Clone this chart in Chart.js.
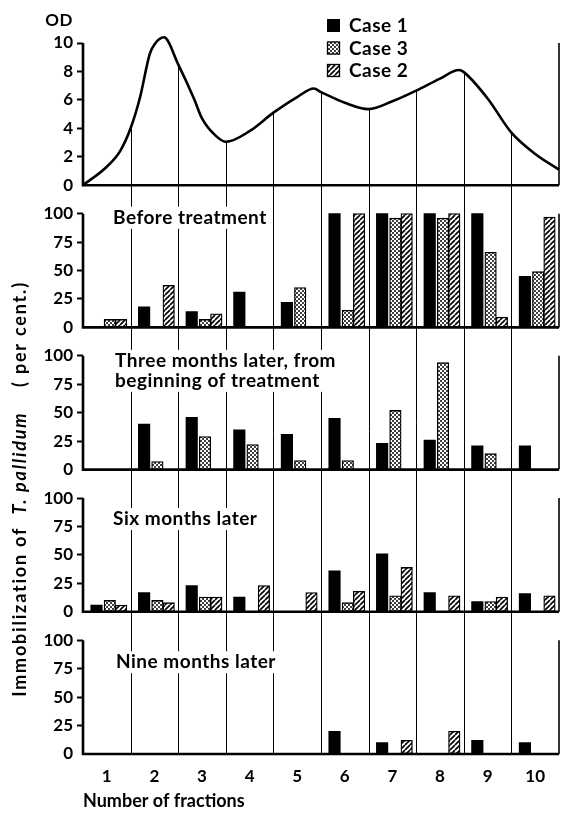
<!DOCTYPE html>
<html>
<head>
<meta charset="utf-8">
<script src="https://cdn.jsdelivr.net/npm/chart.js@4.4.1/dist/chart.umd.min.js"></script>
<style>
  html, body { margin:0; padding:0; background:#fff; }
  #wrap { position:relative; width:563px; height:813px; }
</style>
</head>
<body>
<div id="wrap"><canvas id="c"></canvas></div>
<script>
// ---- data ----
const fractions = ['1','2','3','4','5','6','7','8','9','10'];
const odTicks = [0, 2, 4, 6, 8, 10];
const pctTicks = [0, 25, 50, 75, 100];
const caseNames = ['Case 1', 'Case 3', 'Case 2'];

// OD elution profile, x in fraction units
const odX = [0.5, 1, 1.28, 1.5, 1.7, 1.9, 2, 2.2, 2.5, 2.83, 3, 3.28, 3.5, 4, 4.5, 5, 5.35, 5.5, 6, 6.5, 7, 7.5, 8, 8.4, 8.5, 9, 9.5, 10, 10.5];
const odY = [0, 1.3, 2.4, 4.0, 6.2, 9.2, 9.9, 10.4, 8.5, 6.1, 4.7, 3.5, 3.05, 3.8, 5.1, 6.2, 6.8, 6.55, 5.8, 5.35, 5.9, 6.65, 7.5, 8.1, 7.95, 6.1, 3.7, 2.2, 1.1];

// immobilization (per cent.)
const beforeCase1 = [null, 18, 14, 31, 22, 100, 100, 100, 100, 45];
const beforeCase3 = [7, null, 7, null, 35, 15, 96, 96, 66, 49];
const beforeCase2 = [7, 37, 12, null, null, 100, 100, 100, 9, 97];

const threeCase1 = [null, 40, 46, 35, 31, 45, 23, 26, 21, 21];
const threeCase3 = [null, 7, 29, 22, 8, 8, 52, 94, 14, null];
const threeCase2 = [null, null, null, null, null, null, null, null, null, null];

const sixCase1 = [6, 17, 23, 13, null, 36, 51, 17, 9, 16];
const sixCase3 = [10, 10, 13, null, null, 8, 14, null, 9, null];
const sixCase2 = [6, 8, 13, 23, 17, 18, 39, 14, 13, 14];

const nineCase1 = [null, null, null, null, null, 20, 10, null, 12, 10];
const nineCase3 = [null, null, null, null, null, null, null, null, null, null];
const nineCase2 = [null, null, null, null, null, null, 12, 20, null, null];

const panels = [
  { id: 'yB', title: ['Before treatment'], series: [beforeCase1, beforeCase3, beforeCase2] },
  { id: 'y3', title: ['Three months later, from', 'beginning of treatment'], series: [threeCase1, threeCase3, threeCase2] },
  { id: 'y6', title: ['Six months later'], series: [sixCase1, sixCase3, sixCase2] },
  { id: 'y9', title: ['Nine months later'], series: [nineCase1, nineCase3, nineCase2] }
];

// ---- look ----
const FONT = 'Lato';
// each case sits in its own slot of a fraction: its x axis is slid by this much
const slotShift = [0.216, -0.063, -0.3];

function makePattern(kind){
  const c = document.createElement('canvas');
  const n = kind === 'dots' ? 4 : 5;
  c.width = n; c.height = n;
  const g = c.getContext('2d');
  g.fillStyle = '#fff'; g.fillRect(0, 0, n, n);
  g.fillStyle = '#000'; g.strokeStyle = '#000';
  if(kind === 'dots'){
    g.beginPath(); g.arc(1, 1, 1, 0, Math.PI*2); g.fill();
    g.beginPath(); g.arc(3, 3, 1, 0, Math.PI*2); g.fill();
  } else {
    g.lineWidth = 1.7;
    [-n, 0, n].forEach(dx => {
      g.beginPath(); g.moveTo(dx, n); g.lineTo(dx + n, 0); g.stroke();
    });
  }
  return g.createPattern(c, 'repeat');
}
const fills = ['#000', makePattern('dots'), makePattern('hatch')];

const datasets = [{
  type: 'line',
  data: odX.map((x, i) => ({ x, y: odY[i] })),
  xAxisID: 'xOD', yAxisID: 'yOD',
  borderColor: '#000', borderWidth: 2.6,
  pointRadius: 0, cubicInterpolationMode: 'monotone',
  clip: false
}];
panels.forEach(p => p.series.forEach((vals, k) => datasets.push({
  type: 'bar', label: caseNames[k],
  data: vals.map((v, i) => ({ x: Number(fractions[i]), y: v })),
  xAxisID: 'xC' + k, yAxisID: p.id,
  backgroundColor: fills[k], borderColor: '#000', borderWidth: k ? 1.3 : 0,
  borderSkipped: false, grouped: false, barThickness: 11.5
})));

const tickFont = { family: FONT, size: 17, weight: 'bold' };
function yScale(ticks, max){
  return {
    type: 'linear', position: 'left', stack: 'panels', stackWeight: 1,
    min: 0, max, stacked: false,
    afterBuildTicks: s => { s.ticks = ticks.map(v => ({ value: v })); },
    afterFit: s => { s.width = 83; },
    border: { display: false },
    grid: { drawOnChartArea: false, drawTicks: true, tickLength: 6, tickWidth: 2,
            tickColor: c => (c.tick && c.tick.value === 0) ? 'rgba(0,0,0,0)' : '#000' },
    ticks: { color: '#000', font: tickFont, padding: 4, autoSkip: false }
  };
}
const caseX = s => ({ type: 'linear', position: 'bottom', offset: false, min: 0.5 + s, max: 10.5 + s, display: false });

// frames, dividers, in-panel titles, legend and the y title
const frame = {
  id: 'frame',
  beforeDatasetsDraw(chart){
    const { ctx, chartArea, scales } = chart;
    const bottom = scales.y9.getPixelForValue(0);
    ctx.save();
    ctx.strokeStyle = '#000';
    ctx.lineWidth = 1;
    chart.getDatasetMeta(0).data.forEach((pt, i) => {
      const v = odX[i];
      if(v % 1 !== 0.5 || v < 1 || v > 10) return;
      const x = Math.round(pt.x) + 0.5;
      ctx.beginPath(); ctx.moveTo(x, pt.y); ctx.lineTo(x, bottom); ctx.stroke();
    });
    const boxes = [['yOD', 10]].concat(panels.map(p => [p.id, 100]));
    boxes.forEach(([id, top]) => {
      const s = scales[id];
      const y0 = s.getPixelForValue(0), y1 = s.getPixelForValue(top);
      ctx.lineWidth = 2.6;
      ctx.beginPath(); ctx.moveTo(chartArea.left, y1); ctx.lineTo(chartArea.left, y0);
      ctx.lineTo(chartArea.right, y0); ctx.stroke();
      ctx.lineWidth = 1.6;
      ctx.beginPath(); ctx.moveTo(chartArea.right, y1); ctx.lineTo(chartArea.right, y0); ctx.stroke();
    });
    ctx.restore();
  },
  afterDatasetsDraw(chart){
    const { ctx, chartArea, scales } = chart;
    ctx.save();
    ctx.fillStyle = '#000';
    ctx.textBaseline = 'middle';
    // panel titles on a white ground (they break the dividers)
    ctx.font = `bold 19px ${FONT}`;
    ctx.letterSpacing = '0.5px';
    const offs = { yB: [30, 4], y3: [32, 5], y6: [30, 21], y9: [33, 22] };
    panels.forEach(p => {
      const [dx, dy] = offs[p.id];
      const x = chartArea.left + dx;
      const y = scales[p.id].getPixelForValue(100) + dy;
      p.title.forEach((t, j) => {
        const w = ctx.measureText(t).width;
        ctx.fillStyle = '#fff';
        ctx.fillRect(x - 4, y + j*20 - 11, w + 8, 22);
        ctx.fillStyle = '#000';
        ctx.fillText(t, x, y + j*20);
      });
    });
    // OD label
    ctx.textAlign = 'right';
    ctx.font = `bold 17px ${FONT}`;
    ctx.fillText('OD', 73, 21);
    // legend
    ctx.textAlign = 'left';
    ctx.font = `bold 19px ${FONT}`;
    caseNames.forEach((name, k) => {
      const y = 26 + k*22.5;
      ctx.fillStyle = fills[k];
      ctx.fillRect(327, y - 7, 13, 13);
      if(k){ ctx.strokeStyle = '#000'; ctx.lineWidth = 1.3; ctx.strokeRect(327.5, y - 6.5, 12, 12); }
      ctx.fillStyle = '#000';
      ctx.fillText(name, 349, y);
    });
    // y axis title, partly italic
    ctx.letterSpacing = '1.8px';
    const parts = [['Immobilization of  ', 'bold'], ['T. pallidum', 'italic bold'], ['    ( per cent.)', 'bold']];
    ctx.translate(20, 489);
    ctx.rotate(-Math.PI/2);
    let total = 0;
    parts.forEach(([t, st]) => { ctx.font = `${st} 18px ${FONT}`; total += ctx.measureText(t).width; });
    let x = -total/2;
    parts.forEach(([t, st]) => { ctx.font = `${st} 18px ${FONT}`; ctx.fillText(t, x, 0); x += ctx.measureText(t).width; });
    ctx.restore();
  }
};

new Chart(document.getElementById('c'), {
  data: { labels: fractions, datasets },
  options: {
    responsive: true, maintainAspectRatio: false, animation: false,
    layout: { padding: { left: 0, right: 4, top: 43, bottom: 1 } },
    plugins: { legend: { display: false }, tooltip: { enabled: false } },
    scales: {
      xOD: { type: 'linear', position: 'bottom', offset: false, min: 0.5, max: 10.5, display: false },
      xC0: caseX(slotShift[0]), xC1: caseX(slotShift[1]), xC2: caseX(slotShift[2]),
      xLab: {
        type: 'category', position: 'bottom', offset: true,
        grid: { display: false }, border: { display: false },
        ticks: { color: '#000', font: tickFont, padding: 4 },
        title: { display: true, text: 'Number of fractions', align: 'start', color: '#000',
                 font: { family: FONT, size: 18, weight: 'bold' }, padding: { top: 0, bottom: 0 } }
      },
      // stacked boxes are laid out bottom-up in definition order
      y9: yScale(pctTicks, 125),
      y6: yScale(pctTicks, 125),
      y3: yScale(pctTicks, 125),
      yB: yScale(pctTicks, 125),
      yOD: yScale(odTicks, 10)
    }
  },
  plugins: [frame]
});
</script>
</body>
</html>
